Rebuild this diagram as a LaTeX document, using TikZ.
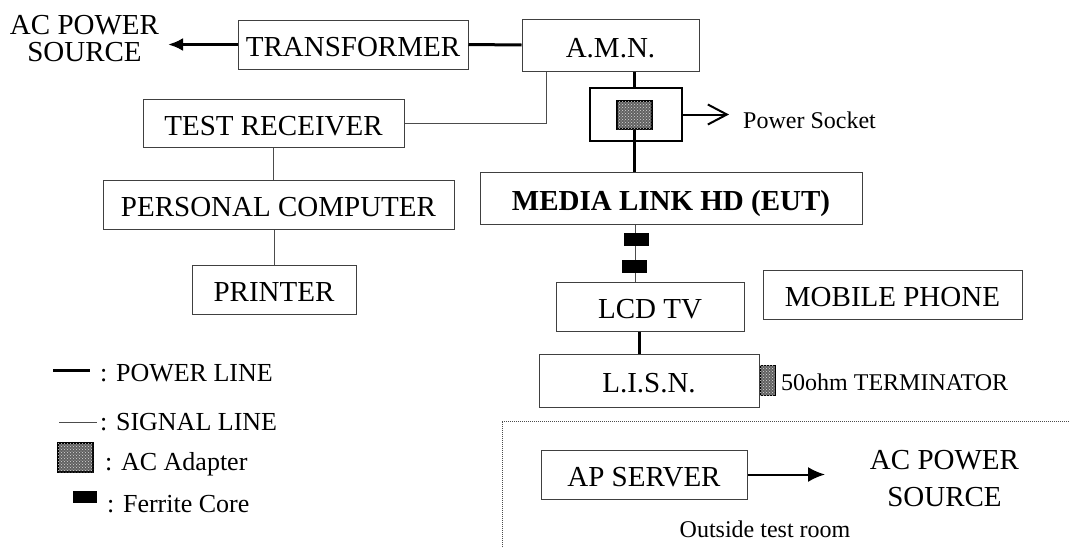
\documentclass[tikz,border=0pt]{standalone}
\usepackage{fontspec}
\setmainfont{Liberation Serif}
\usepackage{tikz}
\usetikzlibrary{arrows.meta}
\usetikzlibrary{patterns}

\newcommand{\bigfont}{\fontsize{29}{31}\selectfont}
\newcommand{\smallfont}{\fontsize{24}{26}\selectfont}
\newcommand{\keyfont}{\fontsize{26}{28}\selectfont}

\tikzset{
    unit/.style={draw=black!75, line width=1pt, inner sep=0pt, font=\bigfont, text height=28pt, text depth=4pt},
    power/.style={line width=3pt},
    signal/.style={draw=black!70, line width=1pt},
    ferrite/.style={fill=black, inner sep=0pt, minimum width=25pt, minimum height=13pt},
    adapter/.style={draw=black, line width=1.5pt, fill=black!62, inner sep=0pt, postaction={pattern=crosshatch dots, pattern color=black!15}},
    note/.style={font=\smallfont, inner sep=0pt},
    keytext/.style={font=\keyfont, inner sep=0pt, anchor=base west},
}

\begin{document}
\begin{tikzpicture}[x=1pt, y=-1pt]
        \useasboundingbox (0,0) rectangle (1069,547);
        % units inside the test room
        \node [unit, minimum width=230pt, minimum height=49pt] (trans) at (353,44.5) {TRANSFORMER};
        \node [unit, minimum width=177pt, minimum height=52pt] (amn) at (610.5,45) {A.M.N.};
        \node [unit, minimum width=261pt, minimum height=48pt] (testrx) at (273.5,123) {TEST RECEIVER};
        \node [unit, minimum width=351pt, minimum height=49pt] (pc) at (278.5,204.5) {PERSONAL COMPUTER};
        \node [unit, minimum width=164pt, minimum height=49pt] (printer) at (274,289.5) {PRINTER};
        \node [draw, line width=1.5pt, minimum width=92pt, minimum height=53pt, inner sep=0pt] (socket) at (636,114.5) {};
        \node [adapter, minimum width=35pt, minimum height=28pt] (adapter) at (634.5,115) {};
        \node [unit, minimum width=382pt, minimum height=52pt, font=\bigfont\bfseries] (eut) at (671,198) {MEDIA LINK HD (EUT)};
        \node [ferrite] (ferriteA) at (636,239) {};
        \node [ferrite] (ferriteB) at (634.5,266.5) {};
        \node [unit, minimum width=188pt, minimum height=49pt] (lcdtv) at (650,306.5) {LCD TV};
        \node [unit, minimum width=259pt, minimum height=49pt] (mobile) at (892.5,294.5) {MOBILE PHONE};
        \node [unit, minimum width=220pt, minimum height=53pt] (lisn) at (649,380.5) {L.I.S.N.};
        \node [adapter, line width=0.8pt, minimum width=15pt, minimum height=30pt, anchor=west] (term) at (lisn.east) {};
        \node [note, anchor=base west] (termtext) at (781,390) {50ohm TERMINATOR};
        \node [font=\fontsize{29}{26.5}\selectfont, align=center, inner sep=0pt] (acsrcA) at (84.5,38.5) {AC POWER\\SOURCE};
        \coordinate (acTipA) at (168,44.5);
        \coordinate (psTip) at (729,114.5);
        \node [note, anchor=base west] (pslabel) at (743,128) {Power Socket};

        \draw [power, -{Latex[length=15pt,width=13pt]}] (trans.west) -- (acTipA);
        \draw [power] (trans.east) -- (amn.west);
        \draw [signal] ([xshift=25pt]amn.south west) |- (testrx.east);
        \draw [signal] (testrx.south) -- (testrx.south |- pc.north);
        \draw [signal] (printer.north) -- (printer.north |- pc.south);
        \draw [power] (adapter.north |- amn.south) -- (adapter.north |- socket.north);
        \draw [power] (adapter.south) -- (adapter.south |- eut.north);
        \draw [line width=2pt, -{Straight Barb[length=19pt,width=20pt]}] (socket.east) -- (psTip);
        \draw [signal] (635,0 |- eut.south) -- (635,0 |- lcdtv.north);
        \node [ferrite] at (ferriteA) {};
        \node [ferrite] at (ferriteB) {};
        \draw [power] ([xshift=-11pt]lcdtv.south) -- ([xshift=-11pt]lcdtv.south |- lisn.north);

        % outside test room
        \draw [densely dotted, black!70, line width=1pt] (502,547) |- (1069,421);
        \node [unit, minimum width=206pt, minimum height=49pt] (apserver) at (644,474.5) {AP SERVER};
        \node [font=\fontsize{29}{37}\selectfont, align=center, inner sep=0pt] (acsrcB) at (944.5,478.5) {AC POWER\\SOURCE};
        \coordinate (acTipB) at (825,474.5);
        \draw [line width=2pt, -{Latex[length=17pt,width=15pt]}] (apserver.east) -- (acTipB);
        \node [note, anchor=base] (outside) at (765,537) {Outside test room};

        % legend
        \coordinate (keyPowerA) at (53,370);
        \coordinate (keyPowerB) at (90,370);
        \draw [power] (keyPowerA) -- (keyPowerB);
        \node [keytext] (keyPower) at (100,381) {: POWER LINE};
        \coordinate (keySignalA) at (59,422);
        \coordinate (keySignalB) at (97,422);
        \draw [signal] (keySignalA) -- (keySignalB);
        \node [keytext] (keySignal) at (100,430) {: SIGNAL LINE};
        \node [adapter, minimum width=35pt, minimum height=29pt] (keyAdapterBox) at (75.5,457.5) {};
        \node [keytext] (keyAdapter) at (105,470) {: AC Adapter};
        \node [ferrite, minimum width=24pt, minimum height=12pt] (keyFerriteBox) at (85,497) {};
        \node [keytext] (keyFerrite) at (107,512) {: Ferrite Core};
    \end{tikzpicture}
\end{document}
